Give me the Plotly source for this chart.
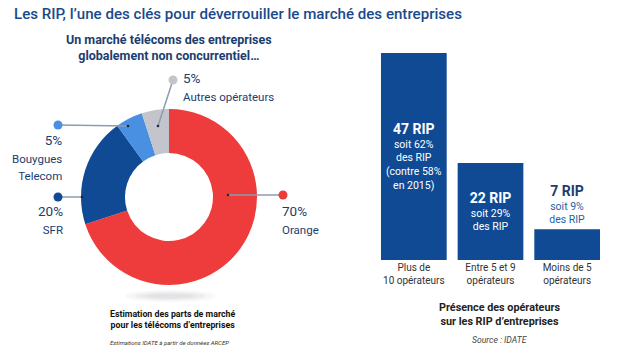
import plotly.graph_objects as go

W, H = 620, 350

# ---- data ----
share_labels = ["Orange", "SFR", "Bouygues<br>Telecom", "Autres opérateurs"]
share_values = [70, 20, 5, 5]
share_colors = ["#ee3b3b", "#104a94", "#4a90e2", "#c3c4cc"]

rip_categories = ["Plus de<br>10 opérateurs", "Entre 5 et 9<br>opérateurs", "Moins de 5<br>opérateurs"]
rip_counts = [47, 22, 7]
rip_pcts = [62, 29, 9]
rip_extra = ["<br>(contre 58%<br>en 2015)", "", ""]

NAVY = "#1c3d6e"
BAR = "#104a94"
FONT = "Roboto, Arial, sans-serif"


def px(x):
    return x / W


def py(y):
    return 1 - y / H


fig = go.Figure()

# donut
fig.add_trace(go.Pie(
    labels=[l.replace("<br>", " ") for l in share_labels],
    values=share_values,
    marker=dict(colors=share_colors),
    hole=0.5, sort=False, direction="clockwise", rotation=0,
    textinfo="none", showlegend=False,
    domain=dict(x=[px(81), px(257)], y=[py(285), py(109)]),
))

# bars
bar_text = []
first_cols = ["white", "white", NAVY]
for c, p, e, fc in zip(rip_counts, rip_pcts, rip_extra, first_cols):
    bar_text.append(f"<b><span style='font-size:14px;fill:{fc}'>{c} RIP</span></b><br>soit {p}%<br>des RIP{e}")
fig.add_trace(go.Bar(
    x=rip_categories, y=rip_counts,
    marker=dict(color=BAR, line=dict(width=0)),
    text=bar_text, texttemplate="%{text}",
    textposition=["inside", "inside", "outside"],
    insidetextanchor="middle",
    constraintext="none", cliponaxis=False,
    textfont=dict(family=FONT, size=10.5, color=["white", "white", "#1f5fa8"]),
    outsidetextfont=dict(family=FONT, size=10.5, color="#1f5fa8"),
    showlegend=False, hoverinfo="x+y",
))

fig.update_xaxes(domain=[px(375.5), px(605.5)], showgrid=False, zeroline=False,
                 showline=False, ticks="", tickfont=dict(family=FONT, size=10, color="#333"))
fig.update_yaxes(domain=[py(260), py(53)], range=[0, 47], visible=False)

# leader lines and dots
shapes = []
line_col = "#8c9cad"
leaders = [
    ((283, 195), (228, 195), share_colors[0]),
    ((58, 197), (82, 197), share_colors[1]),
    ((58, 125), (128, 126), share_colors[2]),
    ((173, 80), (158, 126), share_colors[3]),
]
for (x0, y0), (x1, y1), col in leaders:
    shapes.append(dict(type="line", xref="paper", yref="paper",
                       x0=px(x0), y0=py(y0), x1=px(x1), y1=py(y1),
                       line=dict(color=line_col, width=1.5)))
    r = 4.5
    shapes.append(dict(type="circle", xref="paper", yref="paper",
                       x0=px(x0 - r), x1=px(x0 + r), y0=py(y0 + r), y1=py(y0 - r),
                       fillcolor=col, line=dict(width=0)))
    r2 = 1.3
    shapes.append(dict(type="circle", xref="paper", yref="paper",
                       x0=px(x1 - r2), x1=px(x1 + r2), y0=py(y1 + r2), y1=py(y1 - r2),
                       fillcolor="#1c2a40", line=dict(width=0)))
# soft shadow under donut
for w, h, a in [(90, 12, 0.04), (70, 8, 0.05), (50, 5, 0.05)]:
    shapes.append(dict(type="circle", xref="paper", yref="paper",
                       x0=px(170 - w / 2), x1=px(170 + w / 2), y0=py(296 + h / 2), y1=py(296 - h / 2),
                       fillcolor=f"rgba(60,60,80,{a})", line=dict(width=0), layer="below"))

ann = []


def add(text, x, y, size, color=NAVY, xanchor="center", yanchor="middle", align="center", **kw):
    ann.append(dict(text=text, x=px(x), y=py(y), xref="paper", yref="paper",
                    showarrow=False, xanchor=xanchor, yanchor=yanchor, align=align,
                    font=dict(family=FONT, size=size, color=color, **kw)))


add("Les RIP, l’une des clés pour déverrouiller le marché des entreprises", 12, 14, 15.1,
    color="#1a4a8c", xanchor="left", weight=500)
add("<b>Un marché télécoms des entreprises<br>globalement non concurrentiel…</b>", 169, 47, 12.5,
    color=NAVY)

# donut labels
lbl = "<span style='font-size:11.5px'>{}</span>"
add(f"{share_values[3]}%<br>{lbl.format(share_labels[3])}", 181, 87, 13.5,
    xanchor="left", align="left")
add(f"{share_values[2]}%<br>{lbl.format(share_labels[2])}", 64, 157, 13.5,
    xanchor="right", align="right")
add(f"{share_values[1]}%<br>{lbl.format(share_labels[1])}", 65, 220, 13.5,
    xanchor="right", align="right")
add(f"{share_values[0]}%<br>{lbl.format(share_labels[0])}", 280, 220, 13.5,
    xanchor="left", align="left")

add("<b>Estimation des parts de marché<br>pour les télécoms d’entreprises</b>", 173, 319, 8.8,
    color="#111")
add("<i>Estimations IDATE à partir de données ARCEP</i>", 169, 342, 6, color="#333")

add("<b>Présence des opérateurs<br>sur les RIP d’entreprises</b>", 500, 314, 10.8, color="#222")
add("<i>Source : IDATE</i>", 500, 340, 8.6, color="#444")

fig.update_layout(
    width=W, height=H, margin=dict(l=0, r=0, t=0, b=0),
    paper_bgcolor="white", plot_bgcolor="white",
    bargap=0.143, shapes=shapes, annotations=ann,
    font=dict(family=FONT),
)

fig.write_html("out.html", include_plotlyjs=True, config={"displayModeBar": False})
